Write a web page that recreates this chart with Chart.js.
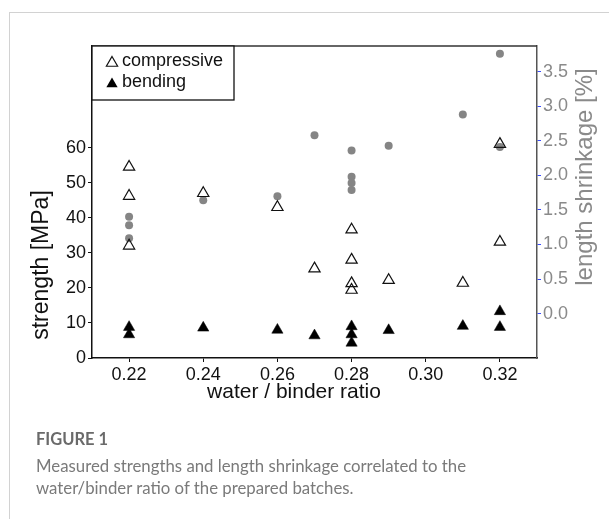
<!DOCTYPE html>
<html>
<head>
<meta charset="utf-8">
<script src="https://cdn.jsdelivr.net/npm/chart.js@4.4.1/dist/chart.umd.min.js"></script>
<style>
  html, body { margin: 0; padding: 0; background: #fff; width: 609px; height: 519px; overflow: hidden; }
  #wrap { position: relative; width: 609px; height: 519px; }
  canvas { position: absolute; left: 0; top: 0; }
  .lineTop { position: absolute; left: 9px; top: 12px; width: 600px; height: 1px; background: #d2d2d2; }
  .lineLeft { position: absolute; left: 9px; top: 12px; width: 1px; height: 507px; background: #d2d2d2; }
  .cap { position: absolute; left: 36px; font-family: Lato, "Open Sans", sans-serif; }
  #capHead { top: 429px; font-weight: bold; font-size: 16.5px; color: #6a6a6a; }
  #capBody { top: 455px; font-size: 16.8px; line-height: 22px; color: #7a7a7a; width: 570px; }
</style>
</head>
<body>
<div id="wrap">
  <canvas id="c" width="609" height="519"></canvas>
  <div class="lineTop"></div>
  <div class="lineLeft"></div>
  <div class="cap" id="capHead">FIGURE 1</div>
  <div class="cap" id="capBody">Measured strengths and length shrinkage correlated to the<br>water/binder ratio of the prepared batches.</div>
</div>
<script>
// ---- data ----
const compressiveRatio  = [0.22, 0.22, 0.22, 0.24, 0.26, 0.27, 0.28, 0.28, 0.28, 0.28, 0.29, 0.31, 0.32, 0.32];
const compressiveMPa    = [54.5, 46.2, 32.0, 47.0, 43.0, 25.5, 36.6, 28.0, 21.3, 19.4, 22.2, 21.4, 61.0, 33.1];

const bendingRatio      = [0.22, 0.22, 0.24, 0.26, 0.27, 0.28, 0.28, 0.28, 0.29, 0.31, 0.32, 0.32];
const bendingMPa        = [8.8, 6.7, 8.6, 8.0, 6.4, 9.0, 6.7, 4.3, 7.9, 9.1, 13.3, 8.8];

const shrinkageRatio    = [0.22, 0.22, 0.22, 0.24, 0.26, 0.27, 0.28, 0.28, 0.28, 0.28, 0.29, 0.31, 0.32, 0.32];
const shrinkagePct      = [1.40, 1.28, 1.09, 1.64, 1.70, 2.58, 2.36, 1.98, 1.89, 1.79, 2.43, 2.88, 3.76, 2.41];

const xTicks     = [0.22, 0.24, 0.26, 0.28, 0.30, 0.32];
const leftTicks  = [0, 10, 20, 30, 40, 50, 60];
const rightTicks = [0.0, 0.5, 1.0, 1.5, 2.0, 2.5, 3.0, 3.5];

const xTitle = 'water / binder ratio';
const leftTitle = 'strength [MPa]';
const rightTitle = 'length shrinkage [%]';
const seriesNames = ['compressive', 'bending', 'length shrinkage'];

// ---- helpers ----
const pts = (xs, ys) => xs.map((x, i) => ({ x: x, y: ys[i] }));
const FONT = '"Liberation Sans", Arial, sans-serif';

const titlesPlugin = {
  id: 'titles',
  afterDraw(chart) {
    const ctx = chart.ctx;
    const a = chart.chartArea;
    ctx.save();
    // top frame line
    ctx.strokeStyle = '#333';
    ctx.lineWidth = 1.5;
    ctx.beginPath();
    ctx.moveTo(a.left, a.top);
    ctx.lineTo(a.right, a.top);
    ctx.stroke();

    // legend box
    const lx = a.left, ly = a.top, lw = 142, lh = 54;
    ctx.fillStyle = '#fff';
    ctx.fillRect(lx, ly, lw, lh);
    ctx.lineWidth = 1.3;
    ctx.strokeStyle = '#111';
    ctx.strokeRect(lx, ly, lw, lh);
    const tri = (cx, cy, r, filled) => {
      ctx.beginPath();
      ctx.moveTo(cx, cy - r);
      ctx.lineTo(cx + r * 0.866, cy + r * 0.5);
      ctx.lineTo(cx - r * 0.866, cy + r * 0.5);
      ctx.closePath();
      if (filled) { ctx.fillStyle = '#000'; ctx.fill(); }
      else { ctx.lineWidth = 1.2; ctx.strokeStyle = '#111'; ctx.stroke(); }
    };
    tri(112, 63, 6.5, false);
    tri(112, 84, 6.5, true);
    ctx.fillStyle = '#111';
    ctx.font = '18px ' + FONT;
    ctx.textAlign = 'left';
    ctx.textBaseline = 'middle';
    ctx.fillText(chart.data.datasets[0].label, 122, 61);
    ctx.fillText(chart.data.datasets[1].label, 122, 82);

    // axis titles
    ctx.fillStyle = '#111';
    ctx.font = '21px ' + FONT;
    ctx.textAlign = 'center';
    ctx.textBaseline = 'middle';
    ctx.fillText(xTitle, 294, 392);

    ctx.save();
    ctx.translate(42, 265);
    ctx.rotate(-Math.PI / 2);
    ctx.font = '23px ' + FONT;
    ctx.fillText(leftTitle, 0, 0);
    ctx.restore();

    ctx.save();
    ctx.translate(585, 177);
    ctx.rotate(-Math.PI / 2);
    ctx.fillStyle = '#8a8a8a';
    ctx.font = '24px ' + FONT;
    ctx.fillText(rightTitle, 0, 0);
    ctx.restore();

    ctx.restore();
  }
};

new Chart(document.getElementById('c'), {
  type: 'scatter',
  data: {
    datasets: [
      {
        label: seriesNames[0],
        data: pts(compressiveRatio, compressiveMPa),
        yAxisID: 'y',
        pointStyle: 'triangle',
        pointRadius: 6.5,
        pointBorderWidth: 1.2,
        borderColor: '#111',
        backgroundColor: 'rgba(0,0,0,0)'
      },
      {
        label: seriesNames[1],
        data: pts(bendingRatio, bendingMPa),
        yAxisID: 'y',
        pointStyle: 'triangle',
        pointRadius: 6.5,
        pointBorderWidth: 0.5,
        borderColor: '#000',
        backgroundColor: '#000'
      },
      {
        label: seriesNames[2],
        data: pts(shrinkageRatio, shrinkagePct),
        yAxisID: 'y2',
        pointStyle: 'circle',
        pointRadius: 4,
        pointBorderWidth: 0,
        borderColor: '#858585',
        backgroundColor: '#858585'
      }
    ]
  },
  options: {
    responsive: false,
    animation: false,
    devicePixelRatio: 1,
    layout: { padding: { left: 0, right: 0, top: 46, bottom: 0 } },
    plugins: { legend: { display: false }, tooltip: { enabled: false } },
    scales: {
      x: {
        type: 'linear',
        position: 'bottom',
        min: 0.21, max: 0.33,
        afterBuildTicks: s => { s.ticks = xTicks.map(v => ({ value: v })); },
        afterFit: s => { s.height = 161; },
        border: { display: true, color: '#111', width: 1.5 },
        grid: { display: true, drawOnChartArea: false, drawTicks: true, tickLength: 4, tickColor: '#111' },
        ticks: { color: '#111', padding: 2, font: { family: FONT, size: 18 }, callback: v => v.toFixed(2) }
      },
      y: {
        type: 'linear',
        position: 'left',
        min: 0, max: 89,
        afterBuildTicks: s => { s.ticks = leftTicks.map(v => ({ value: v })); },
        afterFit: s => { s.width = 92; },
        border: { display: true, color: '#111', width: 1.5 },
        grid: { display: true, drawOnChartArea: false, drawTicks: true, tickLength: 4, tickColor: '#111' },
        ticks: { color: '#111', padding: 2, font: { family: FONT, size: 18 }, callback: v => String(v) }
      },
      y2: {
        type: 'linear',
        position: 'right',
        min: -0.643, max: 3.873,
        afterBuildTicks: s => { s.ticks = rightTicks.map(v => ({ value: v })); },
        afterFit: s => { s.width = 72; },
        border: { display: true, color: '#555', width: 1.5 },
        grid: { display: true, drawOnChartArea: false, drawTicks: true, tickLength: 4, tickColor: '#3a4cff' },
        ticks: { color: '#8a8a8a', padding: 2, font: { family: FONT, size: 18 }, callback: v => v.toFixed(1) }
      }
    }
  },
  plugins: [titlesPlugin]
});
</script>
</body>
</html>
